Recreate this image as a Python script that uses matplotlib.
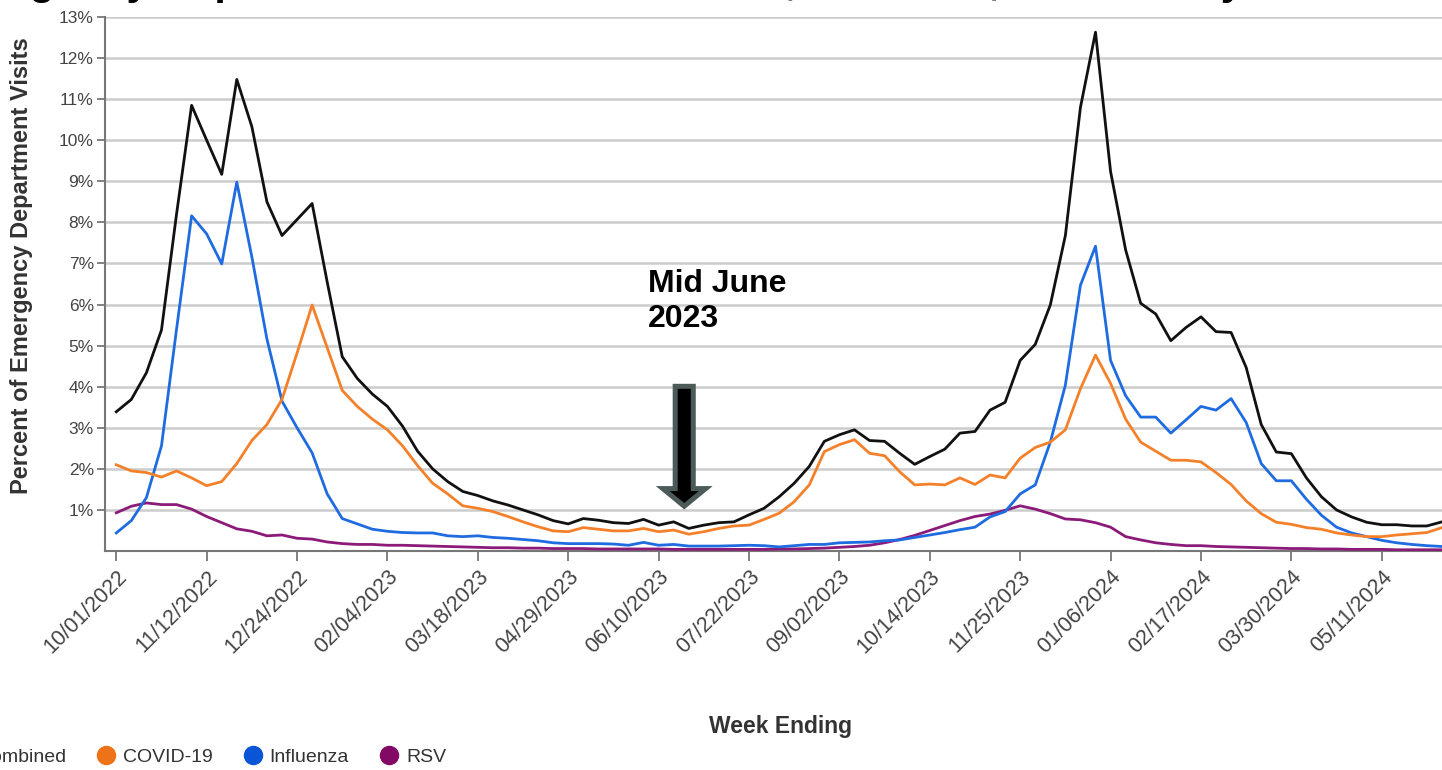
import matplotlib
matplotlib.use("Agg")
import matplotlib.pyplot as plt
import matplotlib.patches as mpatches
import matplotlib.dates as mdates
from matplotlib.lines import Line2D
import pandas as pd

plt.rcParams["font.family"] = ["Liberation Sans", "DejaVu Sans"]

# Weekly data, week ending 10/01/2022 onward (percent of ED visits)
weeks = pd.date_range("2022-10-01", periods=89, freq="7D")

combined = [
    3.39, 3.69, 4.34, 5.38, 8.2, 10.85, 10.0, 9.17, 11.48, 10.33,
    8.5, 7.68, 8.07, 8.46, 6.55, 4.73, 4.2, 3.82, 3.52, 3.04,
    2.43, 2.0, 1.69, 1.45, 1.35, 1.22, 1.12, 1.0, 0.88, 0.74,
    0.66, 0.79, 0.75, 0.69, 0.67, 0.77, 0.63, 0.71, 0.55, 0.63,
    0.69, 0.71, 0.88, 1.04, 1.32, 1.65, 2.06, 2.67, 2.83, 2.95,
    2.69, 2.67, 2.38, 2.11, 2.30, 2.48, 2.87, 2.91, 3.43, 3.62,
    4.64, 5.03, 5.99, 7.68, 10.8, 12.63, 9.24, 7.33, 6.03, 5.77,
    5.12, 5.44, 5.70, 5.34, 5.32, 4.47, 3.08, 2.41, 2.37, 1.78,
    1.32, 1.00, 0.83, 0.70, 0.64, 0.64, 0.61, 0.61, 0.71,
]

covid = [
    2.10, 1.95, 1.91, 1.80, 1.95, 1.78, 1.59, 1.69, 2.13, 2.69,
    3.08, 3.69, 4.82, 5.99, 4.95, 3.91, 3.52, 3.21, 2.95, 2.56,
    2.08, 1.65, 1.39, 1.10, 1.04, 0.96, 0.84, 0.71, 0.59, 0.49,
    0.47, 0.57, 0.53, 0.49, 0.49, 0.55, 0.47, 0.51, 0.41, 0.47,
    0.55, 0.61, 0.63, 0.77, 0.92, 1.20, 1.61, 2.42, 2.59, 2.71,
    2.38, 2.32, 1.93, 1.61, 1.63, 1.61, 1.78, 1.62, 1.85, 1.78,
    2.26, 2.52, 2.65, 2.95, 3.95, 4.77, 4.08, 3.21, 2.65, 2.43,
    2.21, 2.21, 2.17, 1.91, 1.62, 1.22, 0.91, 0.70, 0.65, 0.57,
    0.53, 0.44, 0.39, 0.35, 0.35, 0.39, 0.42, 0.45, 0.57,
]

influenza = [
    0.44, 0.74, 1.30, 2.56, 5.4, 8.16, 7.72, 6.99, 8.98, 7.16,
    5.16, 3.65, 3.0, 2.39, 1.39, 0.79, 0.66, 0.53, 0.48, 0.45,
    0.44, 0.44, 0.37, 0.35, 0.37, 0.33, 0.31, 0.28, 0.25, 0.20,
    0.18, 0.18, 0.18, 0.17, 0.14, 0.21, 0.14, 0.16, 0.12, 0.12,
    0.12, 0.13, 0.14, 0.13, 0.10, 0.13, 0.16, 0.16, 0.20, 0.21,
    0.22, 0.25, 0.27, 0.33, 0.39, 0.45, 0.52, 0.58, 0.83, 0.96,
    1.39, 1.61, 2.65, 4.04, 6.47, 7.42, 4.64, 3.78, 3.26, 3.26,
    2.87, 3.19, 3.52, 3.43, 3.71, 3.13, 2.13, 1.71, 1.71, 1.26,
    0.87, 0.58, 0.44, 0.35, 0.26, 0.20, 0.16, 0.13, 0.11,
]

rsv = [
    0.93, 1.09, 1.17, 1.13, 1.13, 1.02, 0.84, 0.69, 0.54, 0.48,
    0.37, 0.39, 0.31, 0.29, 0.22, 0.18, 0.16, 0.16, 0.14, 0.14,
    0.13, 0.12, 0.11, 0.10, 0.09, 0.08, 0.08, 0.07, 0.07, 0.06,
    0.06, 0.06, 0.05, 0.05, 0.05, 0.05, 0.05, 0.04, 0.04, 0.04,
    0.04, 0.04, 0.04, 0.04, 0.05, 0.05, 0.06, 0.07, 0.09, 0.11,
    0.14, 0.20, 0.28, 0.38, 0.50, 0.62, 0.74, 0.84, 0.90, 0.99,
    1.10, 1.02, 0.91, 0.78, 0.76, 0.69, 0.58, 0.35, 0.27, 0.20,
    0.16, 0.13, 0.13, 0.11, 0.10, 0.09, 0.08, 0.07, 0.06, 0.06,
    0.05, 0.05, 0.04, 0.04, 0.04, 0.03, 0.03, 0.03, 0.03,
]

series = [
    ("Combined", combined, "#111111"),
    ("COVID-19", covid, "#f4812a"),
    ("Influenza", influenza, "#1f6be0"),
    ("RSV", rsv, "#8b1a78"),
]
marker_colors = ["#111111", "#ee7318", "#0a55d6", "#820a64"]

fig = plt.figure(figsize=(14.42, 7.70), dpi=100)
ax = fig.add_axes([0.0728, 0.2844, 0.9272, 0.6935])

# draw RSV first so the combined line sits on top
for name, values, color in reversed(series):
    ax.plot(weeks, values, color=color, linewidth=2.0, zorder=3)

ax.set_ylim(0, 13)
ax.set_xlim(weeks[0] - pd.Timedelta(days=5.25), weeks[-1])
ax.set_yticks(range(1, 14))
ax.set_yticklabels([f"{v}%" for v in range(1, 14)])

tick_weeks = weeks[::6][:15]
ax.set_xticks(tick_weeks)
ax.set_xticklabels([d.strftime("%m/%d/%Y") for d in tick_weeks],
                   rotation=45, ha="right", rotation_mode="anchor")

ax.grid(axis="y", color="#cccccc", linewidth=1.8, zorder=0)
ax.set_axisbelow(True)
ax.spines["top"].set_visible(False)
ax.spines["right"].set_visible(False)
for side in ["left", "bottom"]:
    ax.spines[side].set_color("#777777")
    ax.spines[side].set_linewidth(1.5)
ax.tick_params(axis="y", colors="#777777", labelcolor="#444444",
               labelsize=12.5, length=6, width=1.3, pad=2)
ax.tick_params(axis="x", colors="#777777", labelcolor="#444444",
               labelsize=15.5, length=7, width=1.3, pad=4)

ax.set_xlabel("Week Ending", fontsize=16.5, fontweight="bold", color="#333333")
ax.xaxis.set_label_coords(0.505, -0.307)
ax.set_ylabel("Percent of Emergency Department Visits", fontsize=17,
              fontweight="bold", color="#333333")
ax.yaxis.set_label_coords(-0.054, 0.534)

# annotation
ax.text(weeks[35] + pd.Timedelta(days=2), 6.86, "Mid June\n2023",
        fontsize=23, fontweight="bold", va="top", ha="left", linespacing=1.2)
arrow_x = mdates.date2num(weeks[37]) + 0.7 * 7
arrow = mpatches.FancyArrow(arrow_x, 4.01, 0, -2.92, width=1.2 * 7,
                            head_width=2.85 * 7, head_length=0.43,
                            length_includes_head=True, facecolor="black",
                            edgecolor="#4c5b59", linewidth=3.6, zorder=5)
ax.add_patch(arrow)

# title is clipped by the top edge in the reference, only descenders show
fig.text(0.5, 1.0075,
         "Emergency Department Visits for COVID-19, Influenza, and RSV by Week Ending",
         ha="center", va="baseline", fontsize=30, fontweight="bold")

handles = [Line2D([], [], marker="o", linestyle="", markersize=13,
                  markerfacecolor=c, markeredgecolor=c) for c in marker_colors]
fig.legend(handles, [s[0] for s in series], ncol=4, frameon=False,
           loc="center left", bbox_to_anchor=(-0.0347, 0.0169),
           borderaxespad=0, borderpad=0, fontsize=14, handlelength=1.0,
           handletextpad=0.38, columnspacing=1.55, labelcolor="#333333")

fig.savefig("out.png", dpi=100)
